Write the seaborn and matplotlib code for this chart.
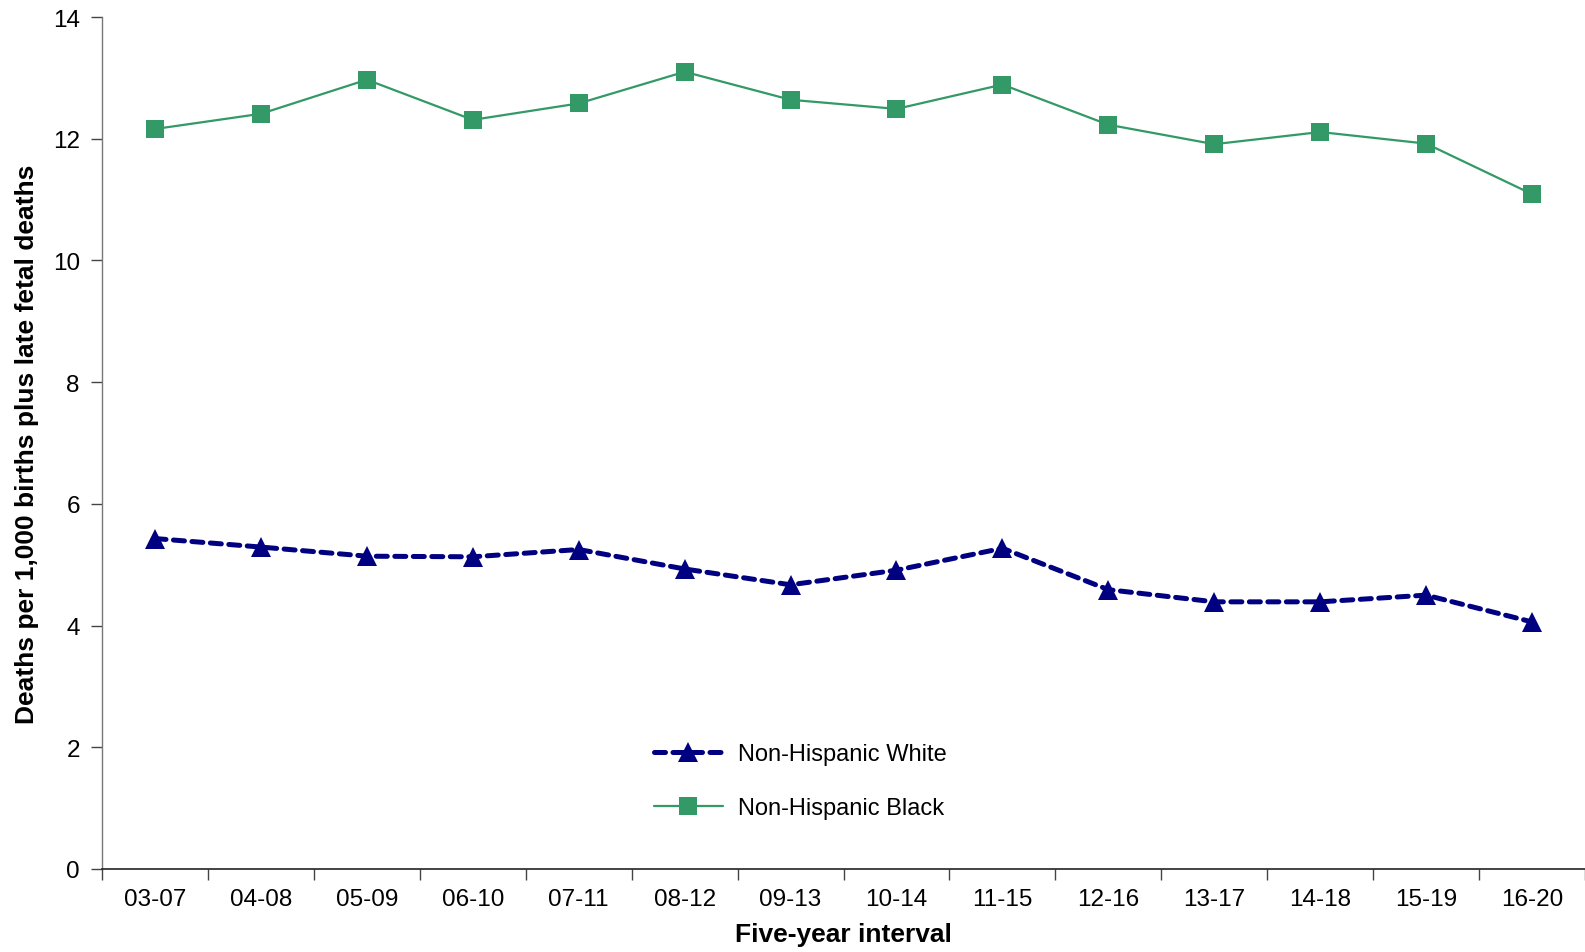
import pandas as pd
import numpy as np
import matplotlib
matplotlib.use("Agg")
import matplotlib.pyplot as plt
import seaborn as sns

intervals = ["03-07", "04-08", "05-09", "06-10", "07-11", "08-12", "09-13",
             "10-14", "11-15", "12-16", "13-17", "14-18", "15-19", "16-20"]
white = [5.43, 5.29, 5.14, 5.13, 5.25, 4.93, 4.67,
         4.91, 5.27, 4.59, 4.39, 4.39, 4.50, 4.06]
black = [12.16, 12.41, 12.97, 12.31, 12.58, 13.10, 12.64,
         12.49, 12.89, 12.23, 11.91, 12.11, 11.92, 11.09]

sns.set_style("white")
plt.rcParams["font.family"] = ["Liberation Sans", "DejaVu Sans"]
plt.rcParams["text.color"] = "black"
plt.rcParams["axes.labelcolor"] = "black"
plt.rcParams["xtick.color"] = "black"
plt.rcParams["ytick.color"] = "black"

df = pd.DataFrame({"Interval": intervals, "White": white, "Black": black})

fig = plt.figure(figsize=(15.85, 9.53), dpi=100)
ax = fig.add_axes([0.0644, 0.0871, 0.9356, 0.894])

sns.lineplot(data=df, x="Interval", y="Black", ax=ax, color="#339966",
             linewidth=1.6, marker="s", markersize=12.5, markeredgewidth=0,
             label="Non-Hispanic Black")
sns.lineplot(data=df, x="Interval", y="White", ax=ax, color="#000080",
             linewidth=3.6, marker="^", markersize=14, markeredgewidth=0,
             label="Non-Hispanic White")
ax.lines[1].set_dashes([2.2, 1.5])
ax.lines[1].set_dash_capstyle("round")

ax.set_xlim(-0.5, len(intervals) - 0.5)
ax.set_ylim(0, 14)
ax.set_yticks(np.arange(0, 15, 2))

# tick marks between categories, labels centred
ax.set_xticks(np.arange(len(intervals)))
ax.set_xticklabels(intervals)
ax.set_xticks(np.arange(len(intervals) + 1) - 0.5, minor=True)
ax.tick_params(axis="x", which="major", length=0, pad=14, labelsize=17.5)
ax.tick_params(axis="x", which="minor", length=8, width=1, color="#444444",
               direction="out", bottom=True)
ax.tick_params(axis="y", length=8, width=1, color="#444444", direction="out",
               left=True, pad=8, labelsize=17.5)

sns.despine(ax=ax)
ax.spines["left"].set_color("#777777")
ax.spines["bottom"].set_color("#222222")
ax.spines["left"].set_linewidth(1)
ax.spines["bottom"].set_linewidth(1.2)

ax.set_xlabel("Five-year interval", fontsize=19, fontweight="bold", labelpad=8)
ax.set_ylabel("Deaths per 1,000 births plus late fetal deaths", fontsize=19,
              fontweight="bold", labelpad=10)

handles, labels = ax.get_legend_handles_labels()
ax.legend(handles[::-1], labels[::-1], loc="center", bbox_to_anchor=(0.471, 0.103),
          frameon=False, fontsize=17, handlelength=2.9, labelspacing=1.35,
          handletextpad=0.65)

fig.savefig("out.png", dpi=100)
